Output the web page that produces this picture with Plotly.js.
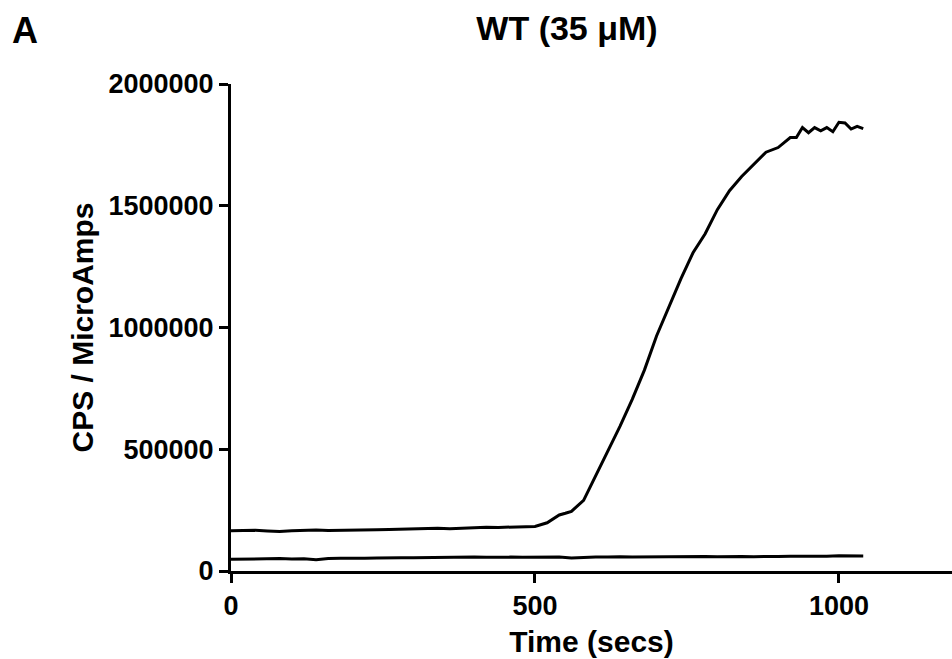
<!DOCTYPE html>
<html>
<head>
<meta charset="utf-8">
<script src="https://cdn.plot.ly/plotly-3.0.1.min.js"></script>
<style>html,body{margin:0;padding:0;background:#fff;}#chart{width:952px;height:659px;}</style>
</head>
<body>
<div id="chart"></div>
<script>
// Upper trace (with substrate) - time in secs, CPS/MicroAmps
var upperTime = [0,20,40,60,80,100,120,140,160,180,200,220,240,260,280,300,320,340,360,380,400,420,440,460,480,500,520,540,550,560,580,600,620,640,660,680,700,720,740,760,780,800,820,840,860,880,900,920,930,940,950,960,970,980,990,1000,1010,1020,1030,1040];
var upperValues = [165000,166000,167000,164000,162000,165000,167000,168000,166000,166000,168000,167000,169000,170000,172000,171000,174000,176000,174000,177000,178000,180000,179000,181000,183000,183000,198000,230000,237000,245000,290000,390000,490000,595000,705000,825000,965000,1080000,1200000,1307000,1385000,1484000,1562000,1620000,1672000,1720000,1739000,1780000,1780000,1821000,1800000,1821000,1808000,1821000,1804000,1843000,1840000,1815000,1826000,1817000];
// Lower trace (baseline)
var lowerTime = [0,20,40,60,80,100,120,140,160,180,200,220,240,260,280,300,320,340,360,380,400,420,440,460,480,500,520,540,560,580,600,620,640,660,680,700,720,740,760,780,800,820,840,860,880,900,920,940,960,980,1000,1020,1040];
var lowerValues = [48000,49000,47000,50000,51000,49000,50000,46000,51000,52000,51000,52000,53000,52000,54000,54000,55000,56000,55000,56000,57000,56000,58000,57000,56000,57000,58000,57000,53000,56000,58000,57000,59000,57000,58000,59000,58000,59000,59000,60000,59000,61000,60000,59000,61000,60000,61000,60000,62000,61000,63000,62000,62000];
var xTicks = [0,500,1000];
var xTickText = ["0","500","1000"];
var yTicks = [0,500000,1000000,1500000,2000000];
var yTickText = ["0","500000","1000000","1500000","2000000"];

var font = "'Liberation Sans', Arial, sans-serif";
function bold(s){ return '<b>' + s + '</b>'; }
var traces = [
  {x: upperTime, y: upperValues, mode: 'lines', line: {color: '#000', width: 3}, hoverinfo: 'skip', showlegend: false},
  {x: lowerTime, y: lowerValues, mode: 'lines', line: {color: '#000', width: 3}, hoverinfo: 'skip', showlegend: false}
];
var layout = {
  width: 952, height: 659,
  margin: {l: 231, r: 0, t: 84, b: 88},
  paper_bgcolor: '#fff', plot_bgcolor: '#fff',
  showlegend: false,
  font: {family: font, color: '#000'},
  title: {text: bold('WT (35 μM)'), font: {family: font, size: 34, color: '#000'}, xref: 'container', yref: 'container', x: 567/952, y: 1 - 28/659, xanchor: 'center', yanchor: 'middle'},
  xaxis: {
    range: [0, 1186], tickvals: xTicks, ticktext: xTickText.map(bold),
    showline: true, linecolor: '#000', linewidth: 3,
    ticks: 'outside', ticklen: 9, tickwidth: 3, tickcolor: '#000',
    showgrid: false, zeroline: false,
    tickfont: {family: font, size: 27, color: '#000'},
    title: {text: bold('Time (secs)'), font: {family: font, size: 30, color: '#000'}, standoff: 11}
  },
  yaxis: {
    range: [0, 2000000], tickvals: yTicks, ticktext: yTickText.map(bold),
    showline: true, linecolor: '#000', linewidth: 3,
    ticks: 'outside', ticklen: 9, tickwidth: 3, tickcolor: '#000',
    showgrid: false, zeroline: false,
    tickfont: {family: font, size: 27, color: '#000'},
    title: {text: bold('CPS / MicroAmps'), font: {family: font, size: 30, color: '#000'}, standoff: 6}
  },
  annotations: [
    {text: bold('A'), xref: 'paper', yref: 'paper', x: (24.5-231)/721, y: 1 + (84-30)/487, xanchor: 'center', yanchor: 'middle', showarrow: false, font: {family: font, size: 36, color: '#000'}}
  ]
};
Plotly.newPlot('chart', traces, layout, {displayModeBar: false, staticPlot: true});
</script>
</body>
</html>
